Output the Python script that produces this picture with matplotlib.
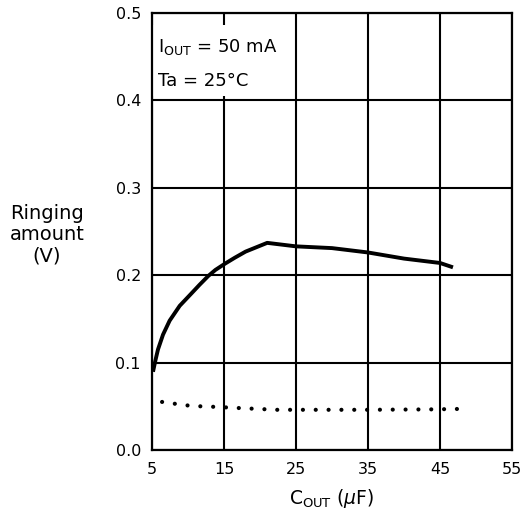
import matplotlib
matplotlib.use('Agg')
import matplotlib.pyplot as plt
from matplotlib.patches import Rectangle

# values
solid_x = [5.14, 5.46, 5.83, 6.53, 7.45, 8.85, 10.46, 11.6, 12.8, 13.8,
           15.1, 16.5, 18.0, 19.5, 21.0, 25.0, 30.0, 35.0, 40.0, 45.0, 46.8]
solid_y = [0.0895, 0.102, 0.115, 0.132, 0.148, 0.165, 0.179, 0.189, 0.199, 0.206,
           0.213, 0.220, 0.227, 0.232, 0.237, 0.233, 0.231, 0.226, 0.219, 0.214, 0.209]

dot_x = [6.4, 8.1, 9.9, 11.7, 13.4, 17.1, 22.3, 27.9, 34.8, 44.1, 47.8]
dot_y = [0.055, 0.053, 0.051, 0.050, 0.0495, 0.048, 0.046, 0.046, 0.046, 0.0465, 0.047]

x_ticks = [5, 15, 25, 35, 45, 55]
y_ticks = [0.0, 0.1, 0.2, 0.3, 0.4, 0.5]

plt.rcParams['font.family'] = ['DejaVu Sans']

fig = plt.figure(figsize=(5.26, 5.17), dpi=100)
ax = fig.add_axes([152/526, 1-450/517, 360/526, 437/517])

ax.plot(solid_x, solid_y, color='black', lw=2.8, solid_capstyle='butt',
        solid_joinstyle='round', zorder=3)
ax.plot(dot_x, dot_y, color='black', lw=3.0, dashes=(0.01, 3.07),
        dash_capstyle='round', zorder=3)

ax.set_xlim(5, 55)
ax.set_ylim(0, 0.5)
ax.set_xticks(x_ticks)
ax.set_yticks(y_ticks)
ax.set_xticklabels([str(v) for v in x_ticks])
ax.set_yticklabels(['%.1f' % v for v in y_ticks])
ax.tick_params(length=0, labelsize=11.5, colors='black')
ax.tick_params(axis='x', pad=9)
ax.tick_params(axis='y', pad=8)
ax.grid(True, color='black', lw=1.5)
ax.set_axisbelow(True)
for s in ax.spines.values():
    s.set_linewidth(1.6)

# white patch behind the conditions text
ax.add_patch(Rectangle((5, 0.4055), 19.3, 0.0805, facecolor='white',
                       edgecolor='none', zorder=1.5))
ax.text(5.8, 0.4549, 'I$_{\\mathrm{OUT}}$ = 50 mA', fontsize=13,
        va='baseline', ha='left', zorder=2)
ax.text(5.8, 0.417, 'Ta = 25°C', fontsize=13, va='baseline', ha='left', zorder=2)

ax.set_xlabel('C$_{\\mathrm{OUT}}$ ($\\mu$F)', fontsize=13.5, labelpad=7)
fig.text(47/526, 1-235/517, 'Ringing\namount\n(V)', fontsize=14,
         ha='center', va='center', linespacing=1.15)

plt.savefig('out.png', dpi=100)
